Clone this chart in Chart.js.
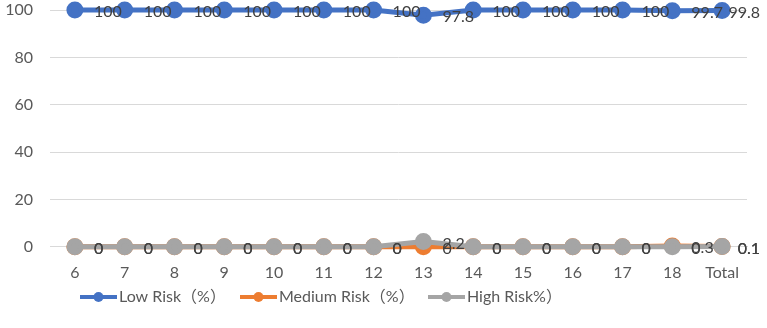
<!DOCTYPE html>
<html>
<head>
<meta charset="utf-8">
<script src="https://cdn.jsdelivr.net/npm/chart.js@4"></script>
<style>
  body { margin: 0; background: #fff; }
  #wrap { width: 767px; height: 328px; }
</style>
</head>
<body>
<div id="wrap"><canvas id="chart" width="767" height="328"></canvas></div>
<script>
// categories and series
const categories = ["6", "7", "8", "9", "10", "11", "12", "13", "14", "15", "16", "17", "18", "Total"];
const lowRisk = [100, 100, 100, 100, 100, 100, 100, 97.8, 100, 100, 100, 100, 99.7, 99.8];
const mediumRisk = [0, 0, 0, 0, 0, 0, 0, 0, 0, 0, 0, 0, 0.3, 0.1];
const highRisk = [0, 0, 0, 0, 0, 0, 0, 2.2, 0, 0, 0, 0, 0, 0.1];
const yTicks = [0, 20, 40, 60, 80, 100];
const seriesNames = ["Low Risk（%）", "Medium Risk（%）", "High Risk%）"];

const colors = ["#4472C4", "#ED7D31", "#A5A5A5"];
const fontFamily = "Lato, 'Noto Sans', 'Noto Sans CJK SC', sans-serif";

// value labels to the right of each point (kept inside the canvas)
const pointLabels = {
  id: "pointLabels",
  afterDatasetsDraw(chart) {
    const ctx = chart.ctx;
    ctx.save();
    ctx.font = "16px " + fontFamily;
    ctx.fillStyle = "#404040";
    ctx.textAlign = "left";
    ctx.textBaseline = "middle";
    chart.data.datasets.forEach((ds, i) => {
      const meta = chart.getDatasetMeta(i);
      meta.data.forEach((pt, j) => {
        let txt = String(ds.data[j]);
        let x = pt.x + 19;
        let w = ctx.measureText(txt).width;
        if (x + w > 760) x = 760 - w;
        ctx.fillText(txt, x, pt.y + 2);
      });
    });
    ctx.restore();
  }
};

// legend drawn like the spreadsheet one: line with a dot
const lineLegend = {
  id: "lineLegend",
  afterDraw(chart) {
    const ctx = chart.ctx;
    const starts = [80, 240, 428];
    const y = 297;
    ctx.save();
    ctx.font = "16px " + fontFamily;
    ctx.textBaseline = "middle";
    ctx.textAlign = "left";
    seriesNames.forEach((name, i) => {
      const x = starts[i];
      ctx.strokeStyle = colors[i];
      ctx.lineWidth = 4;
      ctx.beginPath();
      ctx.moveTo(x, y);
      ctx.lineTo(x + 37, y);
      ctx.stroke();
      ctx.fillStyle = colors[i];
      ctx.beginPath();
      ctx.arc(x + 18.5, y, 5, 0, Math.PI * 2);
      ctx.fill();
      ctx.fillStyle = "#595959";
      ctx.fillText(name, x + 39, y);
    });
    ctx.restore();
  }
};

function makeSet(label, data, color, order) {
  return {
    label: label,
    data: data,
    order: order,
    clip: false,
    borderColor: color,
    backgroundColor: color,
    borderWidth: 5,
    pointRadius: 6,
    pointHoverRadius: 6,
    tension: 0
  };
}

new Chart(document.getElementById("chart"), {
  type: "line",
  data: {
    labels: categories,
    datasets: [
      makeSet(seriesNames[0], lowRisk, colors[0], 0),
      makeSet(seriesNames[1], mediumRisk, colors[1], 2),
      makeSet(seriesNames[2], highRisk, colors[2], 1)
    ]
  },
  options: {
    responsive: false,
    animation: false,
    layout: { autoPadding: false, padding: { top: 10, right: 20, bottom: 30, left: 0 } },
    plugins: {
      legend: { display: false },
      tooltip: { enabled: false }
    },
    scales: {
      x: {
        offset: true,
        grid: { display: false, drawTicks: false },
        border: { color: "#D9D9D9" },
        ticks: { color: "#595959", font: { family: fontFamily, size: 16 }, padding: 16, maxRotation: 0 }
      },
      y: {
        min: 0,
        max: 100,
        afterBuildTicks(axis) { axis.ticks = yTicks.map(v => ({ value: v })); },
        afterFit(axis) { axis.width = 50; axis.paddingTop = 0; },
        grid: { color: "#D9D9D9", lineWidth: 1, drawTicks: false },
        border: { display: false },
        ticks: { color: "#595959", font: { family: fontFamily, size: 16 }, padding: 17 }
      }
    }
  },
  plugins: [pointLabels, lineLegend]
});
</script>
</body>
</html>
